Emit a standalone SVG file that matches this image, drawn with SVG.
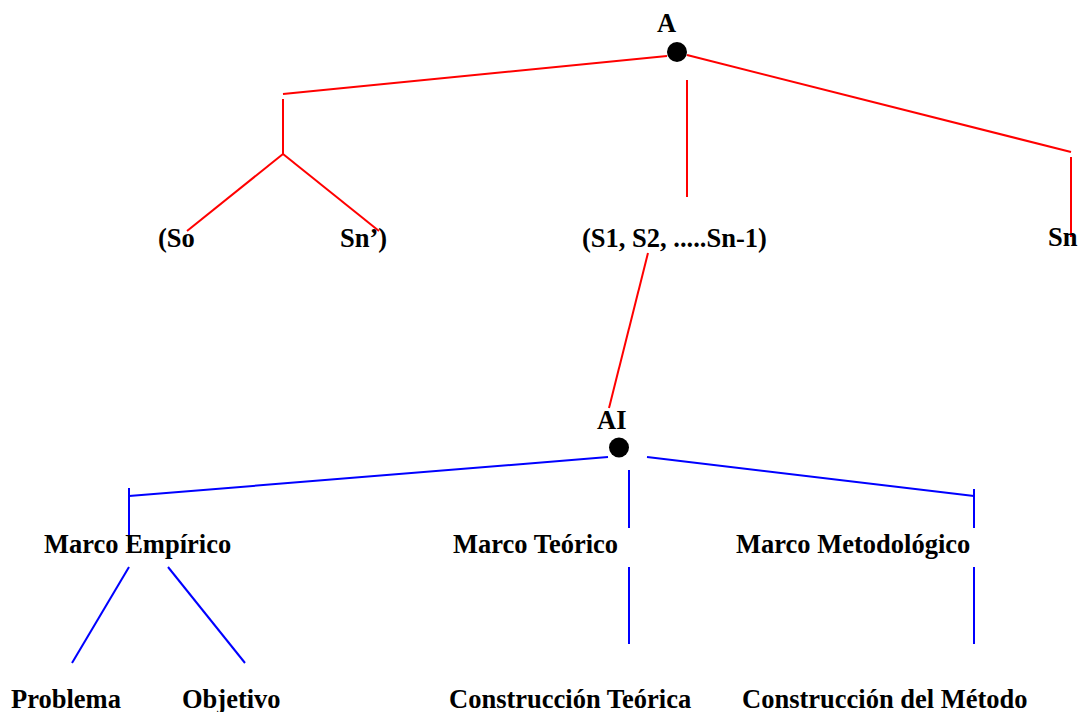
<svg xmlns="http://www.w3.org/2000/svg" width="1081" height="712" viewBox="0 0 1081 712">
<style>
.t{font-family:"Liberation Serif","Times New Roman",serif;font-weight:bold;font-size:26.5px;fill:#000}
.r{stroke:#ff0000;stroke-width:2;fill:none}
.b{stroke:#0000ff;stroke-width:2;fill:none}
.dot{fill:#000}
</style>
<rect width="1081" height="712" fill="#fff"/>
<g id="connectors">
<line class="r" x1="667" y1="56" x2="283" y2="94"/>
<line class="r" x1="283" y1="99" x2="283" y2="154"/>
<line class="r" x1="283" y1="154" x2="187" y2="231"/>
<line class="r" x1="283" y1="154" x2="379" y2="231"/>
<line class="r" x1="687" y1="80" x2="687" y2="197"/>
<line class="r" x1="687" y1="55" x2="1071" y2="152"/>
<line class="r" x1="1071" y1="157" x2="1071" y2="237"/>
<line class="r" x1="648" y1="253" x2="609" y2="408"/>
<line class="b" x1="608" y1="457" x2="129" y2="496"/>
<line class="b" x1="129" y1="488" x2="129" y2="547"/>
<line class="b" x1="647" y1="457" x2="974" y2="496"/>
<line class="b" x1="974" y1="489" x2="974" y2="528"/>
<line class="b" x1="974" y1="567" x2="974" y2="644"/>
<line class="b" x1="629" y1="470" x2="629" y2="528"/>
<line class="b" x1="629" y1="567" x2="629" y2="644"/>
<line class="b" x1="129" y1="567" x2="72" y2="663"/>
<line class="b" x1="168" y1="567" x2="245" y2="663"/>
</g>
<g id="node-A"><circle class="dot" cx="677" cy="52" r="10"/><text class="t" x="657" y="32">A</text></g>
<g id="node-So"><text class="t" x="158" y="247">(So</text></g>
<g id="node-Sn1"><text class="t" x="340" y="247">Sn’)</text></g>
<g id="node-S1"><text class="t" x="582" y="247">(S1, S2, .....Sn-1)</text></g>
<g id="node-Sn"><text class="t" x="1048" y="246">Sn</text></g>
<g id="node-AI"><circle class="dot" cx="619" cy="447.5" r="10"/><text class="t" x="597" y="429">AI</text></g>
<g id="node-empirico"><text class="t" x="44" y="553">Marco Empírico</text></g>
<g id="node-teorico"><text class="t" x="453" y="553">Marco Teórico</text></g>
<g id="node-metodologico"><text class="t" x="736" y="553">Marco Metodológico</text></g>
<g id="node-problema"><text class="t" x="11" y="707.5">Problema</text></g>
<g id="node-objetivo"><text class="t" x="182" y="707.5">Objetivo</text></g>
<g id="node-construccion-teorica"><text class="t" x="449" y="707.5">Construcción Teórica</text></g>
<g id="node-construccion-metodo"><text class="t" x="742" y="707.5">Construcción del Método</text></g>
</svg>
